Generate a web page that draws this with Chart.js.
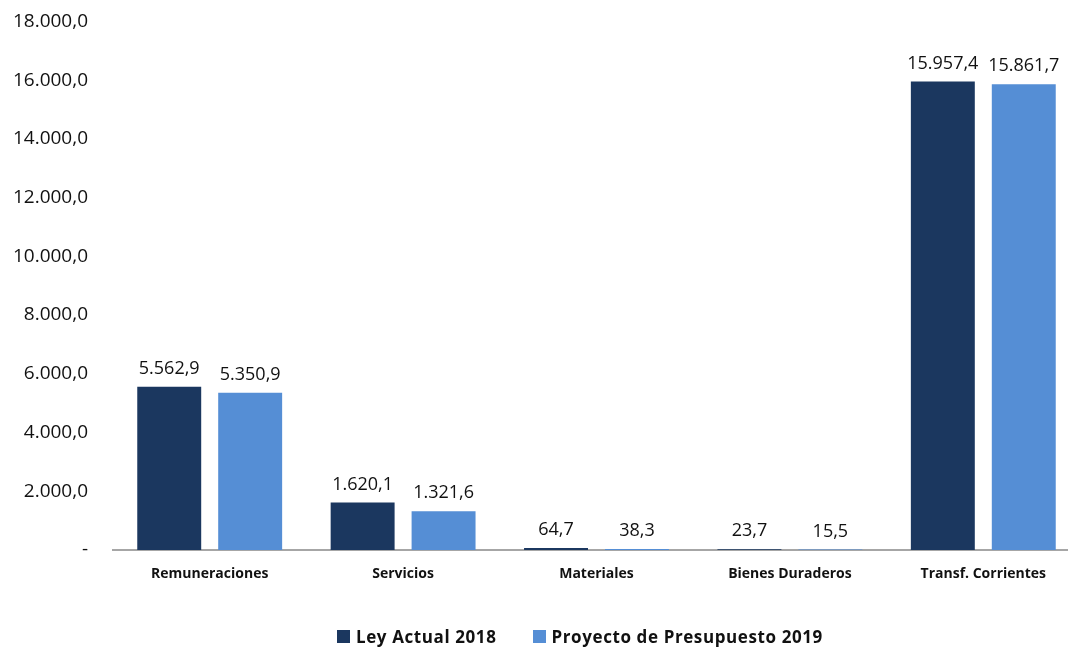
<!DOCTYPE html>
<html>
<head>
<meta charset="utf-8">
<script src="https://cdn.jsdelivr.net/npm/chart.js@4/dist/chart.umd.min.js"></script>
<style>
  html, body { margin: 0; padding: 0; background: #fff; overflow: hidden; }
  #wrap { position: relative; width: 1080px; height: 650px; overflow: hidden; }
  #chart { position: absolute; left: 0; top: -15px; }
  #legend { position: absolute; top: 625px; left: 337px; display: flex; font: bold 17px "Open Sans", sans-serif; letter-spacing: 0.6px; color: #111; }
  #legend .item { display: flex; align-items: center; margin-right: 36px; }
  #legend .box { width: 13px; height: 13px; margin-right: 6px; }
</style>
</head>
<body>
<div id="wrap">
  <canvas id="chart" width="1080" height="665"></canvas>
  <div id="legend"></div>
</div>
<script>
// chart data
const categories = ['Remuneraciones', 'Servicios', 'Materiales', 'Bienes Duraderos', 'Transf. Corrientes'];
const seriesNames = ['Ley Actual 2018', 'Proyecto de Presupuesto 2019'];
const ley2018 = [5562.9, 1620.1, 64.7, 23.7, 15957.4];
const proyecto2019 = [5350.9, 1321.6, 38.3, 15.5, 15861.7];
const yTicks = [0, 2000, 4000, 6000, 8000, 10000, 12000, 14000, 16000, 18000];

const colors = ['#1B375F', '#558ED5'];

// 12345.6 -> "12.345,6"
function fmt(v) {
    const parts = v.toFixed(1).split('.');
    const intPart = parts[0].replace(/\B(?=(\d{3})+(?!\d))/g, '.');
    return intPart + ',' + parts[1];
}

// draws the value above each bar
const valueLabels = {
    id: 'valueLabels',
    afterDatasetsDraw(chart) {
        const ctx = chart.ctx;
        ctx.save();
        ctx.font = '18px "Open Sans", sans-serif';
        ctx.fillStyle = '#111';
        ctx.textAlign = 'center';
        ctx.textBaseline = 'bottom';
        chart.data.datasets.forEach(function(ds, i) {
            chart.getDatasetMeta(i).data.forEach(function(bar, j) {
                ctx.fillText(fmt(ds.data[j]), bar.x, bar.y - 9);
            });
        });
        ctx.restore();
    }
};

const ctx = document.getElementById('chart').getContext('2d');
const chart = new Chart(ctx, {
    type: 'bar',
    data: {
        labels: categories,
        datasets: [
            { label: seriesNames[0], data: ley2018, backgroundColor: colors[0] },
            { label: seriesNames[1], data: proyecto2019, backgroundColor: colors[1] }
        ]
    },
    options: {
        responsive: false,
        animation: false,
        devicePixelRatio: 1,
        categoryPercentage: 0.837,
        barPercentage: 0.79,
        layout: { padding: { top: 10, right: 0, left: 0, bottom: 0 } },
        plugins: {
            legend: { display: false },
            tooltip: { enabled: false }
        },
        scales: {
            x: {
                grid: { display: false, drawTicks: false },
                border: { color: '#A6A6A6', width: 2 },
                ticks: {
                    padding: 16,
                    color: '#111',
                    font: { family: '"Open Sans", sans-serif', size: 14, weight: 'bold' }
                },
                afterFit(scale) { scale.height = 100; }
            },
            y: {
                min: 0,
                max: 18000,
                grid: { display: false, drawTicks: false },
                border: { display: false },
                afterBuildTicks(scale) { scale.ticks = yTicks.map(v => ({ value: v })); },
                ticks: {
                    padding: 25,
                    color: '#111',
                    font: { family: '"Open Sans", sans-serif', size: 19 },
                    callback: v => v === 0 ? '-' : fmt(v)
                },
                afterFit(scale) { scale.width = 113; }
            }
        }
    },
    plugins: [valueLabels]
});

// html legend built from the datasets
const legend = document.getElementById('legend');
chart.data.datasets.forEach(function(ds) {
    const item = document.createElement('div');
    item.className = 'item';
    const box = document.createElement('span');
    box.className = 'box';
    box.style.background = ds.backgroundColor;
    const text = document.createElement('span');
    text.textContent = ds.label;
    item.appendChild(box);
    item.appendChild(text);
    legend.appendChild(item);
});
</script>
</body>
</html>
